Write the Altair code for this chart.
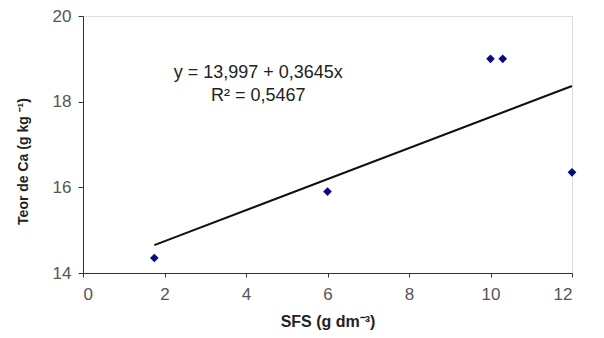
import altair as alt
import pandas as pd

sfs = [1.75, 6.0, 10.0, 10.3, 12.0]
ca = [14.35, 15.9, 19.0, 19.0, 16.35]

eq_text = ["y = 13,997 + 0,3645x", "R² = 0,5467"]
eq_x = [4.3, 4.3]
eq_y = [18.68, 18.14]

pts = pd.DataFrame({"x": sfs, "y": ca})
ann = pd.DataFrame({"x": eq_x, "y": eq_y, "t": eq_text})

xs = alt.Scale(domain=[0, 12], nice=False)
ys = alt.Scale(domain=[14, 20], nice=False)

xaxis = alt.Axis(title="SFS (g dm⁻³)", values=[0, 2, 4, 6, 8, 10, 12], grid=False,
                 labelFontSize=17, labelColor="#555555", labelPadding=9,
                 titleFontSize=16, titleFontWeight="bold", titleColor="#222222", titlePadding=11,
                 domainColor="#333333", tickColor="#333333", tickSize=4,
                 labelFont="Liberation Sans", titleFont="Liberation Sans")
yaxis = alt.Axis(title="Teor de Ca (g kg ⁻¹)", values=[14, 16, 18, 20], grid=False,
                 labelFontSize=17, labelColor="#555555", labelPadding=7,
                 titleFontSize=14, titleFontWeight="bold", titleColor="#222222", titlePadding=22,
                 titleY=145,
                 domainColor="#333333", tickColor="#333333", tickSize=5,
                 labelFont="Liberation Sans", titleFont="Liberation Sans")

base = alt.Chart(pts)

points = base.mark_point(shape="diamond", filled=True, color="#0a0a80", size=75, opacity=1).encode(
    x=alt.X("x:Q", scale=xs, axis=xaxis),
    y=alt.Y("y:Q", scale=ys, axis=yaxis),
)

trend = base.transform_regression("x", "y").mark_line(color="#111111", strokeWidth=2).encode(
    x=alt.X("x:Q", scale=xs),
    y=alt.Y("y:Q", scale=ys),
)

text = alt.Chart(ann).mark_text(fontSize=18, font="Liberation Sans", color="#222222", align="center").encode(
    x=alt.X("x:Q", scale=xs),
    y=alt.Y("y:Q", scale=ys),
    text="t:N",
)

chart = (trend + points + text).properties(
    width=489, height=257,
    autosize=alt.AutoSizeParams(type="none"),
    padding={"left": 75, "top": 8, "right": 20, "bottom": 62},
).configure_view(stroke=None).configure(background="white")

chart.save("out.html", embed_options={"renderer": "svg", "actions": False})
